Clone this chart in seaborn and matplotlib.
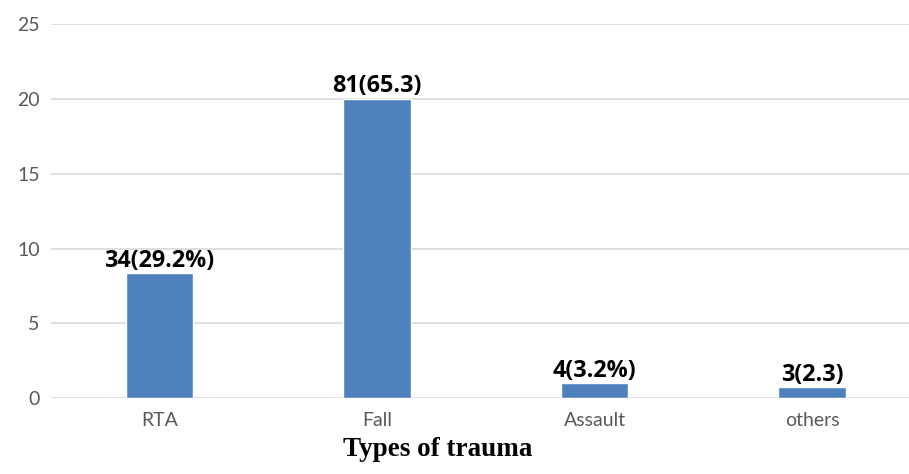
import matplotlib
matplotlib.use("Agg")
import matplotlib.pyplot as plt
import seaborn as sns
import pandas as pd

# Trauma categories and bar heights
categories = ["RTA", "Fall", "Assault", "others"]
values = [8.35, 20.0, 1.0, 0.72]
labels = ["34(29.2%)", "81(65.3)", "4(3.2%)", "3(2.3)"]
y_ticks = [0, 5, 10, 15, 20, 25]

df = pd.DataFrame({"type": categories, "value": values})

sns.set_theme(style="white")
plt.rcParams["font.family"] = ["Lato", "DejaVu Sans"]

fig = plt.figure(figsize=(9.09, 4.74), dpi=100)
ax = fig.add_axes([0.056, 0.160, 0.944, 0.789])

sns.barplot(data=df, x="type", y="value", color="#4F81BD", width=0.31,
            saturation=1, ax=ax, zorder=3)

ax.set_ylim(0, 25)
ax.set_xlim(-0.5, 3.445)
ax.set_yticks(y_ticks)
ax.yaxis.grid(True, color="#d9d9d9", linewidth=1.2, zorder=0)
ax.set_axisbelow(True)
for s in ax.spines.values():
    s.set_visible(False)
ax.tick_params(axis="both", length=0, labelsize=14, colors="#595959")
ax.tick_params(axis="y", pad=8)
ax.tick_params(axis="x", pad=10)
ax.set_ylabel("")
ax.set_xlabel("")

fig.text(0.481, 0.026, "Types of trauma", family="Liberation Serif",
         fontweight="bold", fontsize=19.5, color="black",
         ha="center", va="bottom")

for i, (v, t) in enumerate(zip(values, labels)):
    ax.annotate(t, (i, v), xytext=(0, 0.5), textcoords="offset points",
                ha="center", va="bottom", fontsize=16.8, fontweight="bold",
                family="Open Sans", color="black")

fig.savefig("out.png", dpi=100)
